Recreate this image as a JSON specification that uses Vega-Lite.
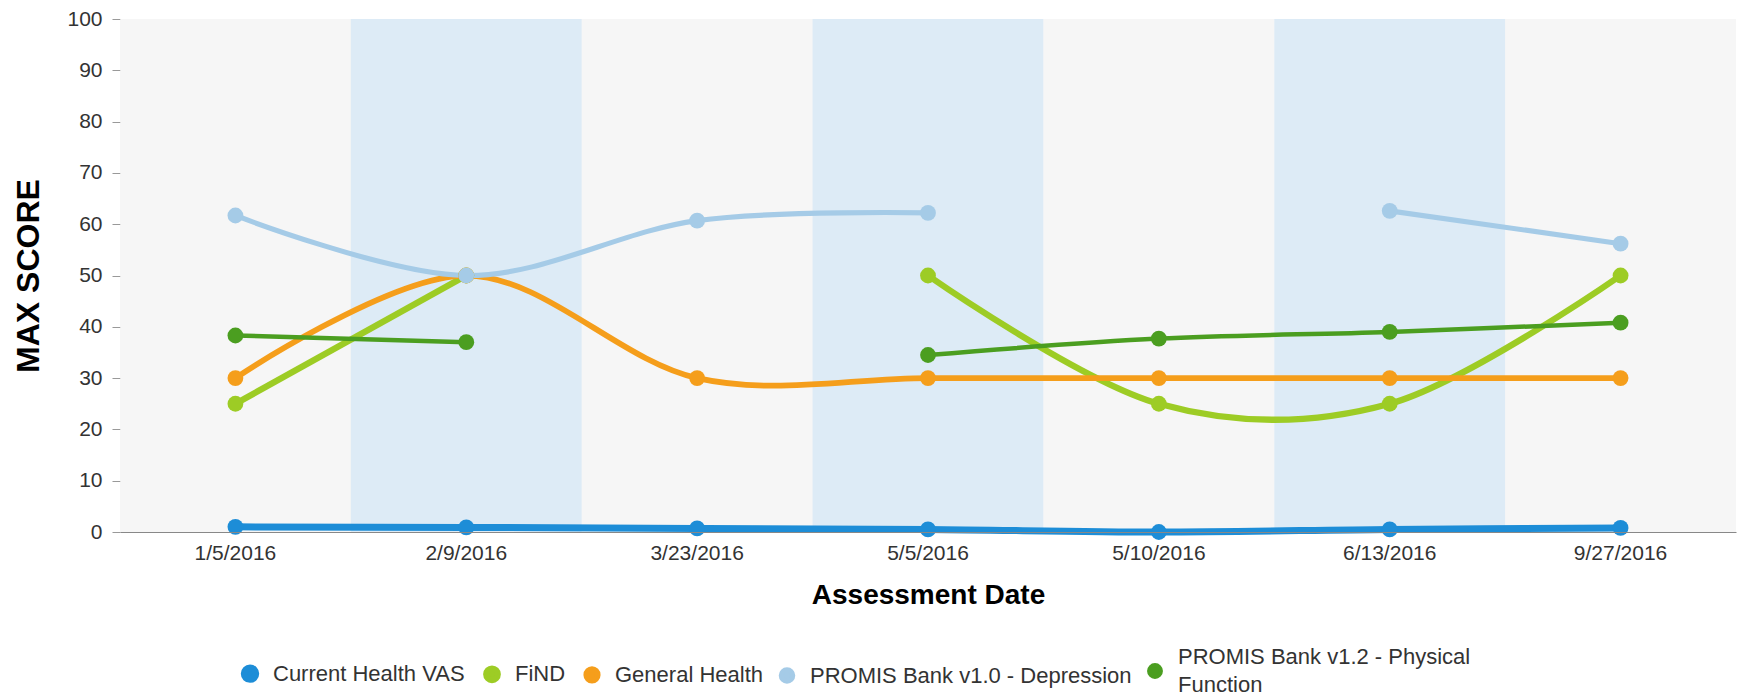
{
  "$schema": "https://vega.github.io/schema/vega-lite/v6.json",
  "width": 1616,
  "height": 513,
  "autosize": {"type": "none"},
  "padding": {"left": 120, "top": 19, "right": 2, "bottom": 164},
  "background": "white",
  "config": {
    "font": "Liberation Sans",
    "view": {"stroke": null},
    "style": {"guide-label": {"lineHeight": 28}},
    "legend": {"orient": "none", "legendX": 119, "legendY": 641, "direction": "horizontal", "columns": 5, "symbolType": "circle", "symbolSize": 130, "symbolStrokeWidth": 0, "labelFontSize": 22, "labelColor": "#333", "labelLimit": 600, "labelOffset": 12, "columnPadding": 8}
  },
  "datasets": {
    "bands": [
      {"date": "1/5/2016", "shade": "plain"},
      {"date": "2/9/2016", "shade": "blue"},
      {"date": "3/23/2016", "shade": "plain"},
      {"date": "5/5/2016", "shade": "blue"},
      {"date": "5/10/2016", "shade": "plain"},
      {"date": "6/13/2016", "shade": "blue"},
      {"date": "9/27/2016", "shade": "plain"}
    ],
    "scores": [
      {"date": "1/5/2016", "series": "Current Health VAS", "score": 1.0, "run": "a"},
      {"date": "2/9/2016", "series": "Current Health VAS", "score": 0.9, "run": "a"},
      {"date": "3/23/2016", "series": "Current Health VAS", "score": 0.7, "run": "a"},
      {"date": "5/5/2016", "series": "Current Health VAS", "score": 0.5, "run": "a"},
      {"date": "5/10/2016", "series": "Current Health VAS", "score": 0.0, "run": "a"},
      {"date": "6/13/2016", "series": "Current Health VAS", "score": 0.5, "run": "a"},
      {"date": "9/27/2016", "series": "Current Health VAS", "score": 0.8, "run": "a"},

      {"date": "1/5/2016", "series": "FiND", "score": 25, "run": "a"},
      {"date": "2/9/2016", "series": "FiND", "score": 50, "run": "a"},
      {"date": "5/5/2016", "series": "FiND", "score": 50, "run": "b"},
      {"date": "5/10/2016", "series": "FiND", "score": 25, "run": "b"},
      {"date": "6/13/2016", "series": "FiND", "score": 25, "run": "b"},
      {"date": "9/27/2016", "series": "FiND", "score": 50, "run": "b"},

      {"date": "1/5/2016", "series": "General Health", "score": 30, "run": "a"},
      {"date": "2/9/2016", "series": "General Health", "score": 50, "run": "a"},
      {"date": "3/23/2016", "series": "General Health", "score": 30, "run": "a"},
      {"date": "5/5/2016", "series": "General Health", "score": 30, "run": "a"},
      {"date": "5/10/2016", "series": "General Health", "score": 30, "run": "a"},
      {"date": "6/13/2016", "series": "General Health", "score": 30, "run": "a"},
      {"date": "9/27/2016", "series": "General Health", "score": 30, "run": "a"},

      {"date": "1/5/2016", "series": "PROMIS Bank v1.0 - Depression", "score": 61.7, "run": "a"},
      {"date": "2/9/2016", "series": "PROMIS Bank v1.0 - Depression", "score": 50.0, "run": "a"},
      {"date": "3/23/2016", "series": "PROMIS Bank v1.0 - Depression", "score": 60.7, "run": "a"},
      {"date": "5/5/2016", "series": "PROMIS Bank v1.0 - Depression", "score": 62.2, "run": "a"},
      {"date": "6/13/2016", "series": "PROMIS Bank v1.0 - Depression", "score": 62.6, "run": "b"},
      {"date": "9/27/2016", "series": "PROMIS Bank v1.0 - Depression", "score": 56.2, "run": "b"},

      {"date": "1/5/2016", "series": "PROMIS Bank v1.2 - Physical Function", "score": 38.3, "run": "a"},
      {"date": "2/9/2016", "series": "PROMIS Bank v1.2 - Physical Function", "score": 37.0, "run": "a"},
      {"date": "5/5/2016", "series": "PROMIS Bank v1.2 - Physical Function", "score": 34.5, "run": "b"},
      {"date": "5/10/2016", "series": "PROMIS Bank v1.2 - Physical Function", "score": 37.7, "run": "b"},
      {"date": "6/13/2016", "series": "PROMIS Bank v1.2 - Physical Function", "score": 39.0, "run": "b"},
      {"date": "9/27/2016", "series": "PROMIS Bank v1.2 - Physical Function", "score": 40.8, "run": "b"}
    ]
  },
  "layer": [
    {
      "data": {"name": "bands"},
      "mark": {"type": "rect", "opacity": 0.5},
      "encoding": {
        "x": {
          "field": "date", "type": "ordinal",
          "scale": {"domain": ["1/5/2016", "2/9/2016", "3/23/2016", "5/5/2016", "5/10/2016", "6/13/2016", "9/27/2016"], "paddingInner": 0, "paddingOuter": 0},
          "axis": {"title": "Assessment Date", "titleFontSize": 28, "titleFontWeight": "bold", "titleColor": "#000", "titlePadding": 18, "labelFontSize": 21, "labelColor": "#333", "labelAngle": 0, "labelPadding": 10, "ticks": false, "domainColor": "#888", "domainWidth": 1.2, "grid": false}
        },
        "y": {
          "datum": 100, "type": "quantitative",
          "scale": {"domain": [0, 100], "nice": false, "zero": true},
          "axis": {"title": "MAX SCORE", "titleFontSize": 32, "titleFontWeight": "bold", "titleColor": "#000", "titlePadding": 21, "labelFontSize": 21, "labelColor": "#333", "labelPadding": 10, "tickSize": 8, "tickColor": "#999", "domain": false, "values": [0, 10, 20, 30, 40, 50, 60, 70, 80, 90, 100], "gridColor": "#cfcfcf", "gridWidth": 1}
        },
        "y2": {"datum": 0},
        "fill": {"field": "shade", "type": "nominal", "scale": {"domain": ["plain", "blue"], "range": ["#eeeeee", "#bcd7ee"]}, "legend": null}
      }
    },
    {
      "data": {"name": "scores"},
      "mark": {"type": "line", "interpolate": "cardinal"},
      "encoding": {
        "x": {"field": "date", "type": "ordinal"},
        "y": {"field": "score", "type": "quantitative"},
        "detail": {"field": "run"},
        "color": {"field": "series", "type": "nominal",
          "scale": {"domain": ["Current Health VAS", "FiND", "General Health", "PROMIS Bank v1.0 - Depression", "PROMIS Bank v1.2 - Physical Function"], "range": ["#1d8dd7", "#9dcc25", "#f59e1b", "#a5cbe7", "#4b9e20"]},
          "legend": {"title": null, "symbolType": "circle",
            "labelExpr": "datum.label == 'PROMIS Bank v1.2 - Physical Function' ? ['PROMIS Bank v1.2 - Physical', 'Function'] : datum.label",
            "encode": {"labels": {"update": {"dy": {"signal": "datum.value == 'PROMIS Bank v1.2 - Physical Function' ? -14 : 0"}}}}}},
        "strokeWidth": {"field": "series", "type": "nominal", "legend": null,
          "scale": {"domain": ["Current Health VAS", "FiND", "General Health", "PROMIS Bank v1.0 - Depression", "PROMIS Bank v1.2 - Physical Function"], "range": [7, 4.5, 5, 4.5, 5]}}
      }
    },
    {
      "data": {"name": "scores"},
      "mark": {"type": "point", "filled": true, "opacity": 1, "size": 250, "shape": "circle"},
      "encoding": {
        "x": {"field": "date", "type": "ordinal"},
        "y": {"field": "score", "type": "quantitative"},
        "color": {"field": "series", "type": "nominal",
          "legend": {"title": null, "symbolType": "circle",
            "labelExpr": "datum.label == 'PROMIS Bank v1.2 - Physical Function' ? ['PROMIS Bank v1.2 - Physical', 'Function'] : datum.label",
            "encode": {"labels": {"update": {"dy": {"signal": "datum.value == 'PROMIS Bank v1.2 - Physical Function' ? -14 : 0"}}}}}}
      }
    }
  ]
}
